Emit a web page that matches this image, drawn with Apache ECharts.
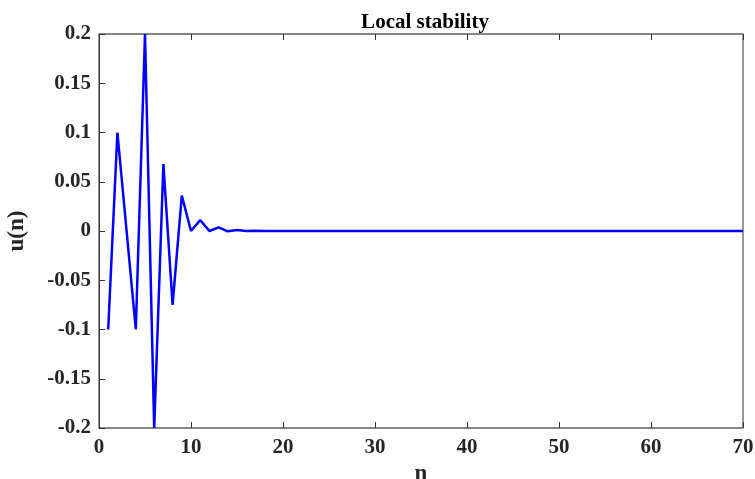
<!DOCTYPE html>
<html><head><meta charset="utf-8">
<script src="https://cdn.jsdelivr.net/npm/echarts@6/dist/echarts.min.js"></script>
<style>html,body{margin:0;padding:0;background:#fff}#c{width:755px;height:479px}</style>
</head><body><div id="c"></div>
<script>
var titleText = "Local stability";
var xName = "n";
var yName = "u(n)";
var nValues = [];
for (var i = 1; i <= 70; i++) nValues.push(i);
var earlyValues = [-0.1, 0.1, 0.0, -0.1, 0.2, -0.2, 0.068, -0.075, 0.036, 0.0, 0.011, 0.0, 0.0037, -0.0003, 0.001, 0.0, 0.0003, 0.0];
var uValues = earlyValues.slice();
while (uValues.length < nValues.length) uValues.push(0);
var xTicks = [0, 10, 20, 30, 40, 50, 60, 70];
var yTicks = [-0.2, -0.15, -0.1, -0.05, 0, 0.05, 0.1, 0.15, 0.2];

var data = nValues.map(function (n, i) { return [n, uValues[i]]; });
var font = "'Liberation Serif','Times New Roman',serif";
var axisCol = '#808080';
var darkCol = '#333333';
var labelCol = '#262626';
function fmtY(v) { return String(Math.round(v * 100) / 100); }

var chart = echarts.init(document.getElementById('c'), null, {renderer: 'canvas'});
chart.setOption({
  animation: false,
  title: {text: titleText, left: 420, top: 7, textAlign: 'center',
    textStyle: {fontFamily: font, fontWeight: 'bold', fontSize: 21, color: '#000'}},
  grid: {left: 99, right: 12, top: 34, bottom: 51, containLabel: false, outerBoundsMode: 'none',
    show: true, borderColor: darkCol, borderWidth: 1, backgroundColor: 'transparent'},
  xAxis: [{
    type: 'value', gridIndex: 0, position: 'bottom', min: xTicks[0], max: xTicks[xTicks.length - 1], interval: 10,
    name: xName, nameLocation: 'middle', nameGap: 32,
    nameTextStyle: {fontFamily: font, fontWeight: 'bold', fontSize: 23, color: labelCol},
    axisLine: {show: true, onZero: false, lineStyle: {color: axisCol, width: 1.5}},
    axisTick: {show: true, inside: true, length: 6, lineStyle: {color: darkCol}},
    axisLabel: {fontFamily: font, fontWeight: 'bold', fontSize: 21, color: labelCol, margin: 9},
    splitLine: {show: false}
  }, {
    type: 'value', gridIndex: 0, position: 'top', show: true, min: xTicks[0], max: xTicks[xTicks.length - 1], interval: 10,
    axisLine: {show: true, onZero: false, lineStyle: {color: axisCol, width: 1.5}},
    axisTick: {show: true, inside: true, length: 6, lineStyle: {color: darkCol}},
    axisLabel: {show: false}, splitLine: {show: false}
  }],
  yAxis: [{
    type: 'value', gridIndex: 0, position: 'left', min: yTicks[0], max: yTicks[yTicks.length - 1], interval: 0.05,
    name: yName, nameLocation: 'middle', nameGap: 70, nameRotate: 90,
    nameTextStyle: {fontFamily: font, fontWeight: 'bold', fontSize: 23, color: labelCol},
    axisLine: {show: true, onZero: false, lineStyle: {color: darkCol, width: 1}},
    axisTick: {show: true, inside: true, length: 6, lineStyle: {color: darkCol}},
    axisLabel: {fontFamily: font, fontWeight: 'bold', fontSize: 21, color: labelCol, margin: 8, formatter: fmtY},
    splitLine: {show: false}
  }],
  series: [{
    type: 'line', data: data, xAxisIndex: 0, yAxisIndex: 0,
    showSymbol: false, symbol: 'none',
    lineStyle: {color: '#0000ff', width: 2.5},
    clip: true
  }]
});
</script></body></html>
